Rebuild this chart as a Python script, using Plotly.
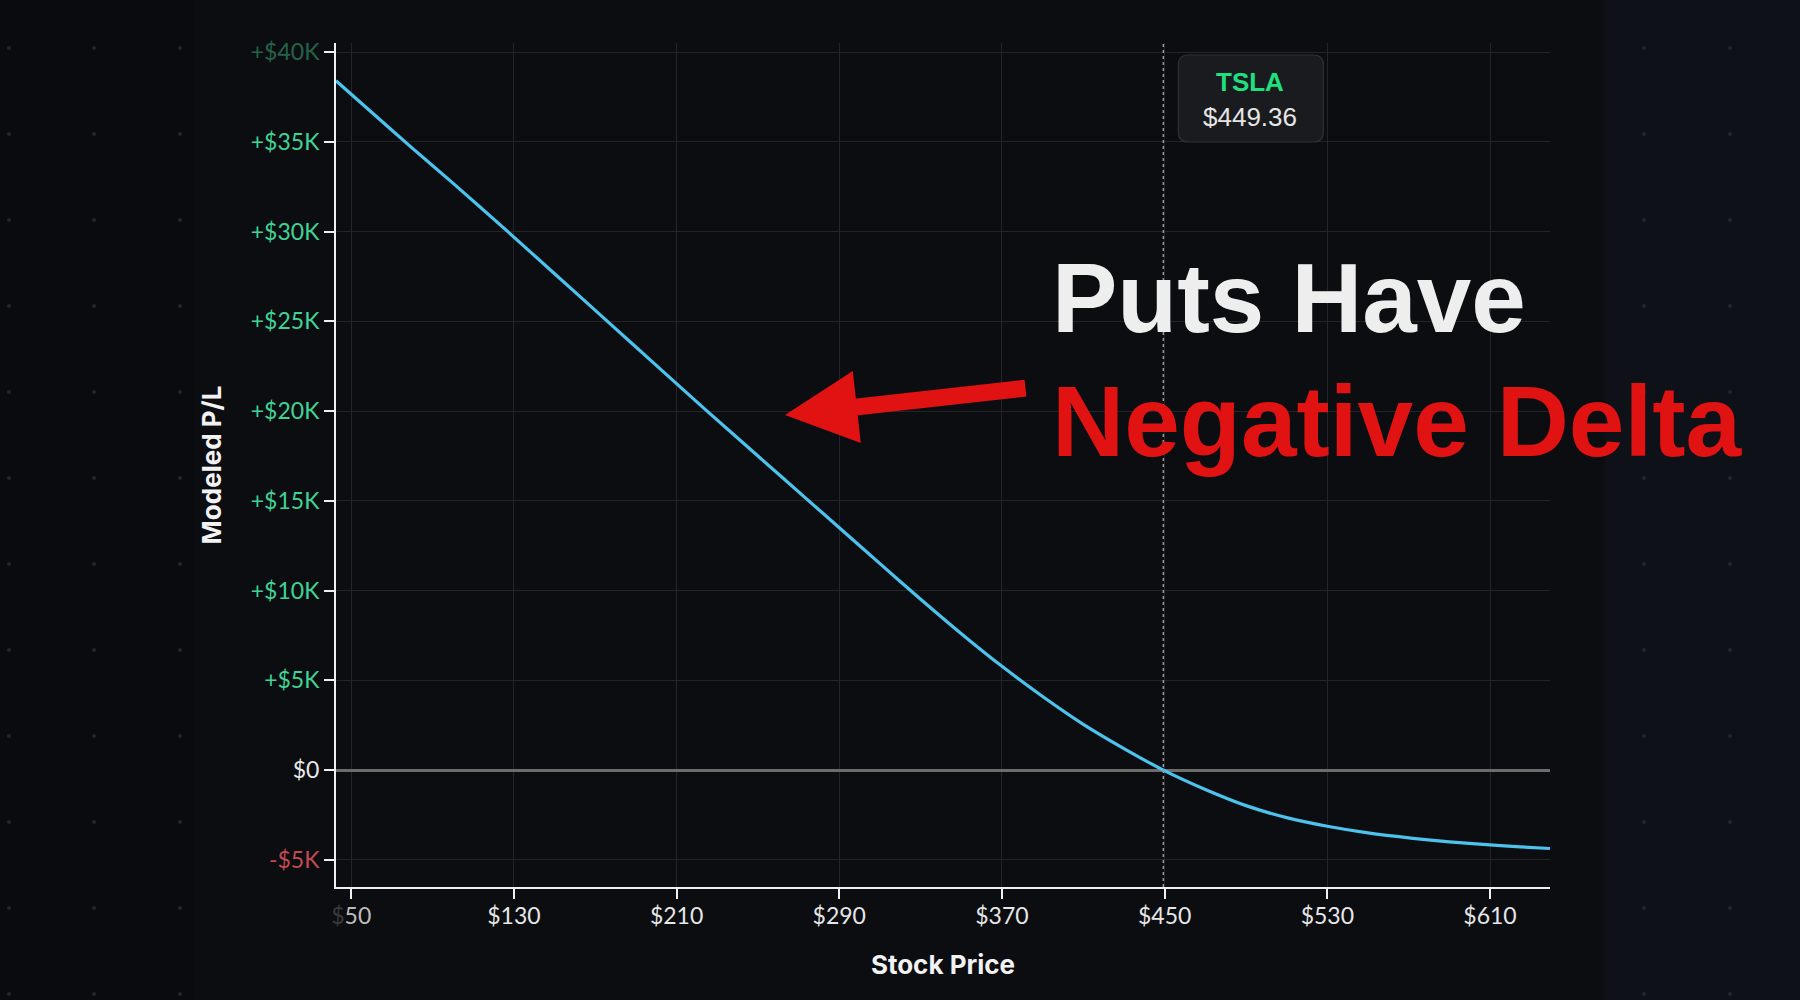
import plotly.graph_objects as go

# ---------------- data ----------------
price = [42.5, 60, 80, 100, 127, 150, 176, 200, 225, 250, 275, 290, 310, 330, 350,
         370, 390, 410, 430, 449.36, 470, 490, 510, 530, 550, 572, 590, 610, 625, 639.5]
pl = [38400, 36650, 34650, 32700, 30000, 27650, 25000, 22550, 20000, 17500, 15000,
      13500, 11500, 9520, 7600, 5780, 4100, 2550, 1200, 0, -1080, -1980, -2650,
      -3130, -3500, -3800, -4000, -4170, -4280, -4370]

x_tickvals = [50, 130, 210, 290, 370, 450, 530, 610]
x_ticktext = ["$50", "$130", "$210", "$290", "$370", "$450", "$530", "$610"]
y_tickvals = [-5000, 0, 5000, 10000, 15000, 20000, 25000, 30000, 35000, 40000]
y_ticktext = ["-$5K", "$0", "+$5K", "+$10K", "+$15K", "+$20K", "+$25K", "+$30K", "+$35K", "+$40K"]

ticker = "TSLA"
spot = 449.36

# ---------------- layout geometry ----------------
W, H = 1800, 1000
ML, MR, MT, MB = 336, 250, 43, 113
PW, PH = W - ML - MR, H - MT - MB
BG = "#0c0d11"


def px(xp):
    return (xp - ML) / PW


def py(yp):
    return (H - MB - yp) / PH


GREEN = "#3fd495"
RED_T = "#c24a52"
TICKFONT = "Lato"

# coloured tick labels
y_labels = []
for v, t in zip(y_tickvals, y_ticktext):
    if v < 0:
        c = RED_T
    elif v == 0:
        c = "#e8e8e8"
    elif v == max(y_tickvals):
        c = "#24634a"
    else:
        c = GREEN
    y_labels.append(f"<span style='color:{c}'>{t}</span>")
x_labels = []
for i, t in enumerate(x_ticktext):
    if i == 0:
        x_labels.append(f"<span style='color:#3a3a3a'>{t[:1]}</span><span style='color:#bdbdbd'>{t[1:]}</span>")
    else:
        x_labels.append(t)

fig = go.Figure()
fig.add_trace(go.Scatter(x=price, y=pl, mode="lines",
                         line=dict(color="#4cc2ec", width=3.2, shape="spline", smoothing=0.8),
                         hoverinfo="skip", showlegend=False))

shapes = []
# background panels
shapes.append(dict(type="rect", xref="paper", yref="paper", x0=px(0), x1=px(195), y0=py(H), y1=py(0),
                   fillcolor="#0a0b0f", line=dict(width=0), layer="below"))
shapes.append(dict(type="rect", xref="paper", yref="paper", x0=px(1605), x1=px(W), y0=py(H), y1=py(0),
                   fillcolor="#0e1118", line=dict(width=0), layer="below"))
# decorative dot grid
for cx in [9, 94, 180, 1644, 1730]:
    for k in range(12):
        cy = 48 + 86 * k
        shapes.append(dict(type="circle", xref="paper", yref="paper", xsizemode="pixel", ysizemode="pixel",
                           xanchor=px(cx), yanchor=py(cy), x0=-2, x1=2, y0=-2, y1=2,
                           fillcolor="#23262c", line=dict(width=0), layer="below"))
# current price dashed line
shapes.append(dict(type="line", xref="x", yref="paper", x0=spot, x1=spot, y0=0, y1=1,
                   line=dict(color="#9a9a9a", width=1.5, dash="3px,3px")))
# ticker box (rounded rect)
r = 10
bx0, bx1, by0, by1 = 15, 160, -12, -99
path = (f"M{bx0 + r},{by0} L{bx1 - r},{by0} Q{bx1},{by0} {bx1},{by0 - r} "
        f"L{bx1},{by1 + r} Q{bx1},{by1} {bx1 - r},{by1} L{bx0 + r},{by1} "
        f"Q{bx0},{by1} {bx0},{by1 + r} L{bx0},{by0 - r} Q{bx0},{by0} {bx0 + r},{by0} Z")
shapes.append(dict(type="path", xref="x", yref="paper", xsizemode="pixel", ysizemode="pixel",
                   xanchor=spot, yanchor=1, path=path, fillcolor="#1a1b1f",
                   line=dict(color="#303136", width=1.2)))

annotations = [
    dict(xref="paper", yref="paper", x=px(1250), y=py(82), text=f"<b>{ticker}</b>", showarrow=False,
         font=dict(family="Liberation Sans", size=26, color="#1fe07f"), xanchor="center", yanchor="middle"),
    dict(xref="paper", yref="paper", x=px(1250), y=py(117), text=f"${spot:.2f}", showarrow=False,
         font=dict(family="Liberation Sans", size=26, color="#e6e6e6"), xanchor="center", yanchor="middle"),
    dict(xref="paper", yref="paper", x=px(1050), y=py(298), text="<b>Puts Have</b>", showarrow=False,
         font=dict(family="Liberation Sans", size=98, color="#eeeeee"), xanchor="left", yanchor="middle"),
    dict(xref="paper", yref="paper", x=px(1050), y=py(421), text="<b>Negative Delta</b>", showarrow=False,
         font=dict(family="Liberation Sans", size=100, color="#e01212"), xanchor="left", yanchor="middle"),
    dict(xref="paper", yref="paper", x=px(785), y=py(415), text="", showarrow=True,
         ax=242, ay=-27, arrowhead=2, arrowsize=0.85, arrowwidth=17, arrowcolor="#e01212",
         axref="pixel", ayref="pixel"),
]

fig.update_layout(
    width=W, height=H,
    margin=dict(l=ML, r=MR, t=MT, b=MB, pad=0),
    paper_bgcolor=BG, plot_bgcolor=BG,
    shapes=shapes, annotations=annotations, showlegend=False,
    xaxis=dict(range=[42.5, 639.5], tickvals=x_tickvals, ticktext=x_labels,
               tickfont=dict(family=TICKFONT, size=23, color="#e6e6e6"),
               ticklabelstandoff=-3,
               showgrid=True, gridcolor="#232429", gridwidth=1, zeroline=False,
               showline=True, linecolor="#f0f0f0", linewidth=2,
               ticks="outside", ticklen=10, tickwidth=2, tickcolor="#f0f0f0",
               title=dict(text="<b>Stock Price</b>", standoff=28,
                          font=dict(family="Inter", size=26, color="#f2f2f2"))),
    yaxis=dict(range=[-6514, 40507], tickvals=y_tickvals, ticktext=y_labels,
               tickfont=dict(family=TICKFONT, size=23, color=GREEN),
               showgrid=True, gridcolor="#232429", gridwidth=1,
               zeroline=True, zerolinecolor="#6c6c6c", zerolinewidth=3,
               showline=True, linecolor="#f0f0f0", linewidth=2,
               ticks="outside", ticklen=10, tickwidth=2, tickcolor="#f0f0f0",
               title=dict(text="<b>Modeled P/L</b>", standoff=22,
                          font=dict(family="Inter", size=26, color="#f2f2f2"))),
)

fig.write_html("out.html", config={"displayModeBar": False},
               post_script="document.body.style.margin='0';document.body.style.overflow='hidden';"
                           f"document.body.style.background='{BG}';")
